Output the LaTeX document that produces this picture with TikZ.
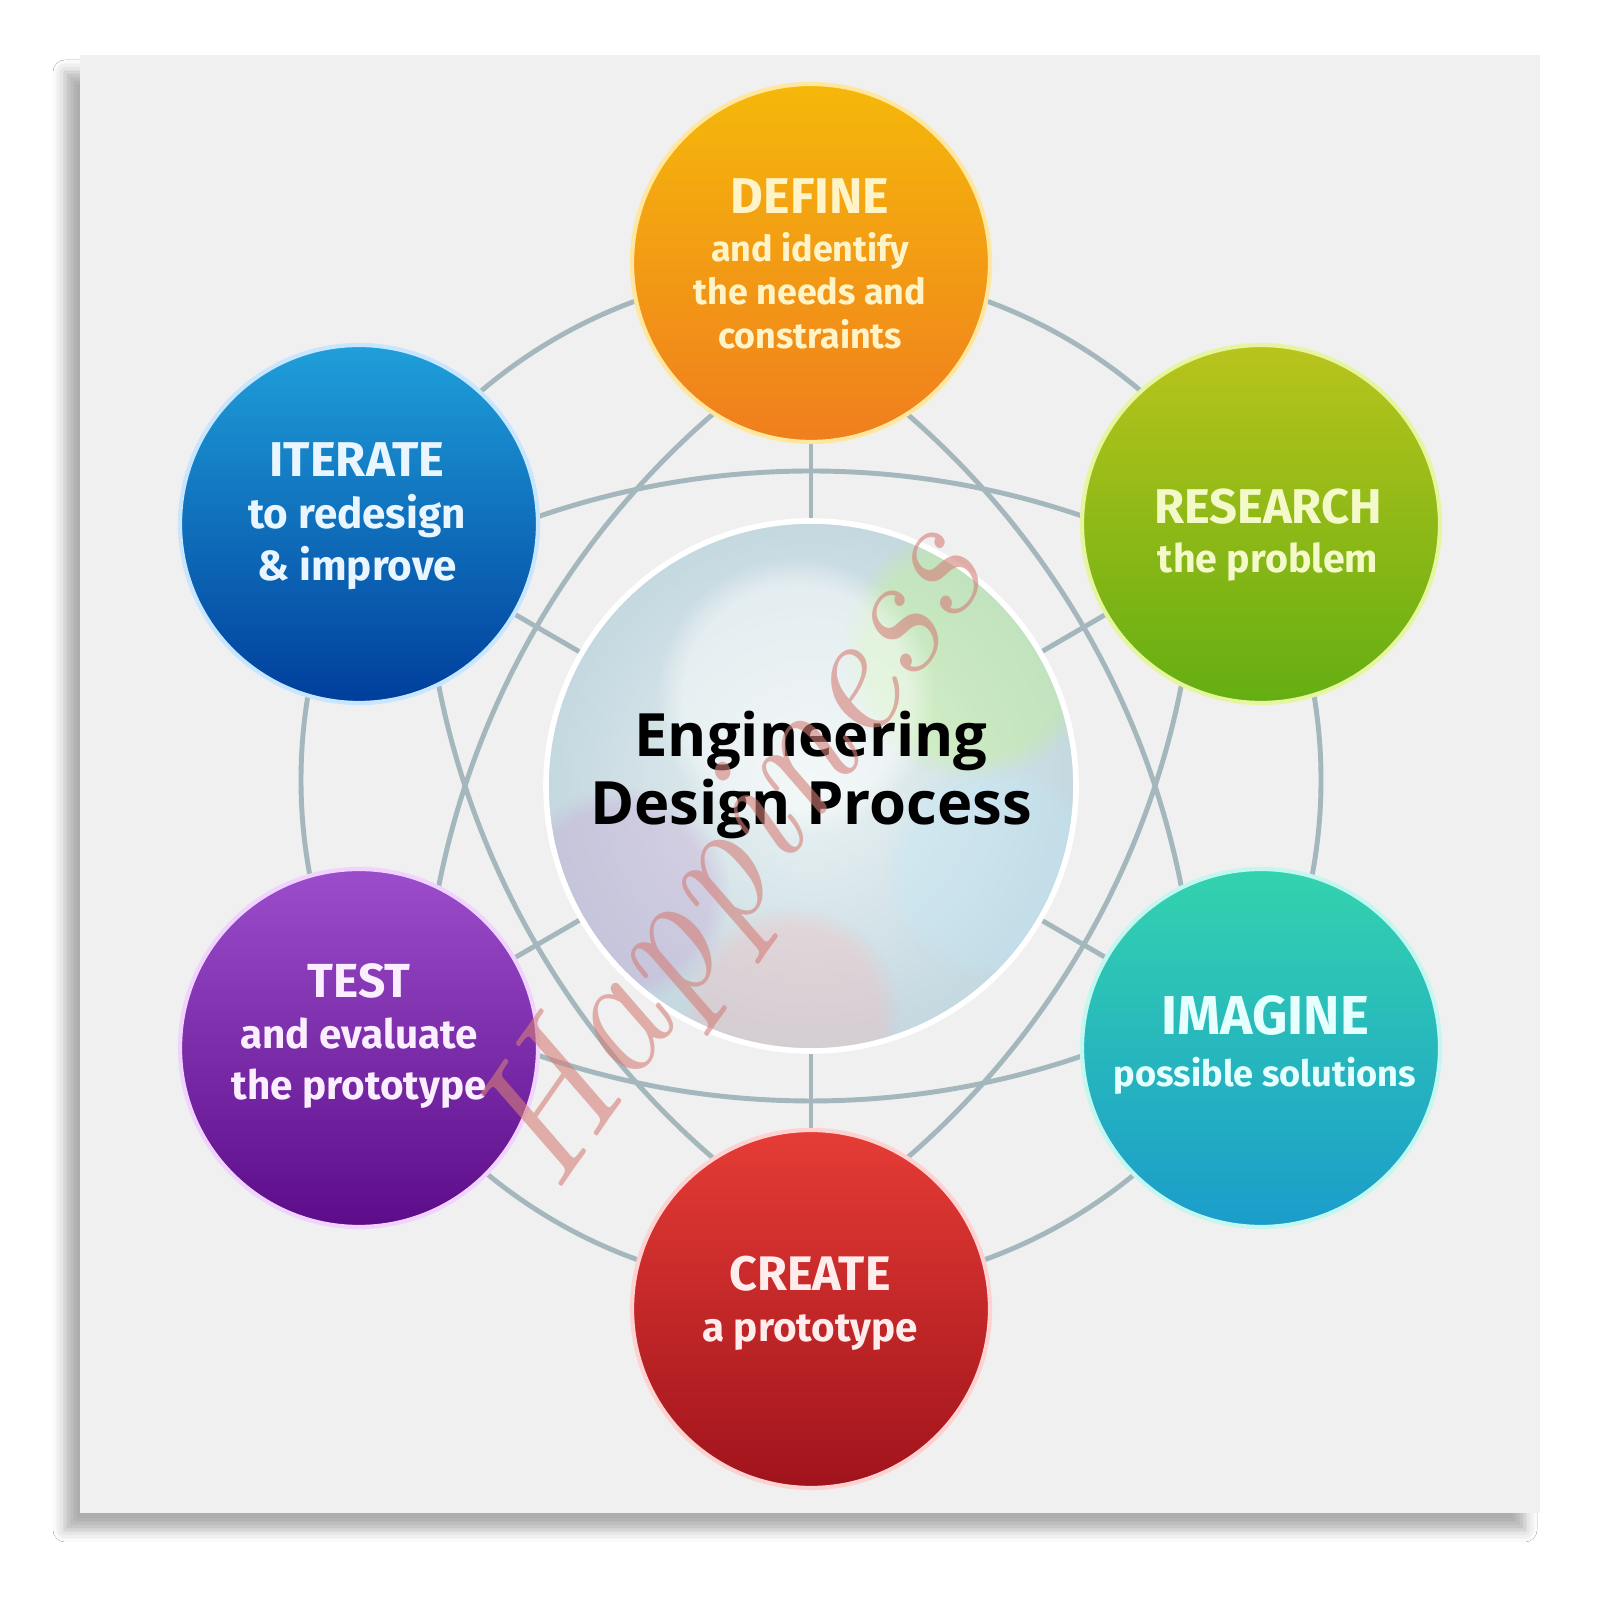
\documentclass[tikz,border=0pt]{standalone}
\usepackage{fontspec}
\newfontfamily\circfont{Fira Sans}
\newfontfamily\corefont{Open Sans}
\usetikzlibrary{calc,shadows.blur,fadings}
\definecolor{canvascol}{HTML}{F0F0F0}
\definecolor{netcol}{HTML}{A3B7BD}
\definecolor{defA}{HTML}{F5B80A}\definecolor{defB}{HTML}{F07E1E}\definecolor{defE}{HTML}{FFE7A0}\definecolor{defT}{HTML}{FFF4C8}
\definecolor{resA}{HTML}{B9C41C}\definecolor{resB}{HTML}{64AE12}\definecolor{resE}{HTML}{E6F5A0}\definecolor{resT}{HTML}{F3F9C8}
\definecolor{imaA}{HTML}{33D3AE}\definecolor{imaB}{HTML}{1B9CCB}\definecolor{imaE}{HTML}{C4F7F0}\definecolor{imaT}{HTML}{E6FFFF}
\definecolor{creA}{HTML}{E63C35}\definecolor{creB}{HTML}{A0131C}\definecolor{creE}{HTML}{FFD2D2}\definecolor{creT}{HTML}{FFECEC}
\definecolor{tesA}{HTML}{9B4DCB}\definecolor{tesB}{HTML}{5C0C88}\definecolor{tesE}{HTML}{F0D4FF}\definecolor{tesT}{HTML}{FAEEFF}
\definecolor{itrA}{HTML}{1FA0DA}\definecolor{itrB}{HTML}{003E9C}\definecolor{itrE}{HTML}{C8E6FF}\definecolor{itrT}{HTML}{EAF6FF}
\definecolor{coreIn}{HTML}{EAF2F3}\definecolor{coreOut}{HTML}{C4D8E0}
\definecolor{wmcol}{HTML}{D47F78}
\tikzset{
  netline/.style={draw=netcol, line width=1.4pt},
  phase/.style={circle, minimum size=3.58cm, inner sep=0pt, line width=1.2pt},
  lbl/.style={font=\circfont\bfseries, align=center, inner sep=0pt},
}
\newcommand\ttlsize[1]{\fontsize{#1}{#1}\selectfont}
\begin{document}
\begin{tikzpicture}
\useasboundingbox (0,0) rectangle (15.97,16);
\fill[white] (0,0) rectangle (15.97,16);
% canvas
\path[fill=canvascol, blur shadow={shadow xshift=-0.15cm, shadow yshift=-0.17cm, shadow blur radius=0.12cm, shadow opacity=32}] (0.80,0.87) rectangle (15.40,15.45);
% coordinates
\coordinate (C) at (8.11,8.14);
\coordinate (pD) at (8.11,13.37);
\coordinate (pR) at (12.61,10.76);
\coordinate (pI) at (12.61,5.52);
\coordinate (pC) at (8.11,2.91);
\coordinate (pT) at (3.59,5.52);
\coordinate (pIt) at (3.59,10.76);
\coordinate (ringc) at (8.11,8.20);
% network
\draw[netline] (ringc) circle (5.10);
\foreach \a/\p in {90/pD,30/pR,-30/pI,-90/pC,-150/pT,150/pIt}{
  \draw[netline] ($(\p)+(\a+150:8.38)$) arc[start angle=\a+150, end angle=\a+210, radius=8.38];
  \draw[netline] (C) -- (\p);
}
% core circle
\node[circle, minimum size=5.3cm, inner sep=0pt, inner color=coreIn, outer color=coreOut] (core) at (C) {};
\begin{scope}
  \clip (C) circle (2.64);
  \fill[green!45!yellow!60!white, opacity=0.28, path fading=circle with fuzzy edge 20 percent] ($(C)+(40:2.1)$) circle (1.3);
  \fill[blue!40!purple!40!white, opacity=0.3, path fading=circle with fuzzy edge 20 percent] ($(C)+(210:2.2)$) circle (1.1);
  \fill[red!30!white, opacity=0.28, path fading=circle with fuzzy edge 20 percent] ($(C)+(265:2.3)$) circle (1.1);
  \fill[cyan!25!white, opacity=0.3, path fading=circle with fuzzy edge 20 percent] ($(C)+(-25:2.0)$) circle (1.1);
  \fill[white, opacity=0.45, path fading=circle with fuzzy edge 20 percent] ($(C)+(100:0.9)$) circle (1.4);
\end{scope}
\draw[white, line width=1.6pt] (C) circle (2.65);
% phase circles
\node[phase, top color=defA, bottom color=defB, draw=defE] (define) at (pD) {};
\node[phase, top color=resA, bottom color=resB, draw=resE] (research) at (pR) {};
\node[phase, top color=imaA, bottom color=imaB, draw=imaE] (imagine) at (pI) {};
\node[phase, top color=creA, bottom color=creB, draw=creE] (create) at (pC) {};
\node[phase, top color=tesA, bottom color=tesB, draw=tesE] (test) at (pT) {};
\node[phase, top color=itrA, bottom color=itrB, draw=itrE] (iterate) at (pIt) {};
% labels
\node[lbl, text=defT, font=\circfont\bfseries\fontsize{10.2}{12.4}\selectfont] (defineT) at (8.10,13.36)
  {{\ttlsize{14.3}DEFINE}\\[1.2pt]and identify\\the needs and\\constraints};
\node[lbl, text=resT, font=\circfont\bfseries\fontsize{11.2}{14}\selectfont] (researchT) at (12.68,10.65)
  {{\ttlsize{13.9}RESEARCH}\\the problem};
\node[lbl, text=imaT, font=\circfont\bfseries\fontsize{10.3}{15}\selectfont] (imagineT) at (12.65,5.55)
  {{\ttlsize{15.6}IMAGINE}\\possible solutions};
\node[lbl, text=creT, font=\circfont\bfseries\fontsize{11.5}{14.5}\selectfont] (createT) at (8.10,2.97)
  {{\ttlsize{13.8}CREATE}\\a prototype};
\node[lbl, text=tesT, font=\circfont\bfseries\fontsize{11.5}{14.5}\selectfont] (testT) at (3.59,5.64)
  {{\ttlsize{13.6}TEST}\\and evaluate\\the prototype};
\node[lbl, text=itrT, font=\circfont\bfseries\fontsize{12}{14.8}\selectfont] (iterateT) at (3.57,10.84)
  {{\ttlsize{13.9}ITERATE}\\to redesign\\\& improve};
\node[align=center, inner sep=0pt, text=black, font=\corefont\bfseries\fontsize{17}{19.6}\selectfont] (coreT) at (8.11,8.25)
  {Engineering\\Design Process};
% watermark
\node[rotate=55, text=wmcol, opacity=0.6, font=\itshape\fontsize{50}{50}\selectfont] (wm) at (7.38,7.40) {Happiness};
\end{tikzpicture}
\end{document}
